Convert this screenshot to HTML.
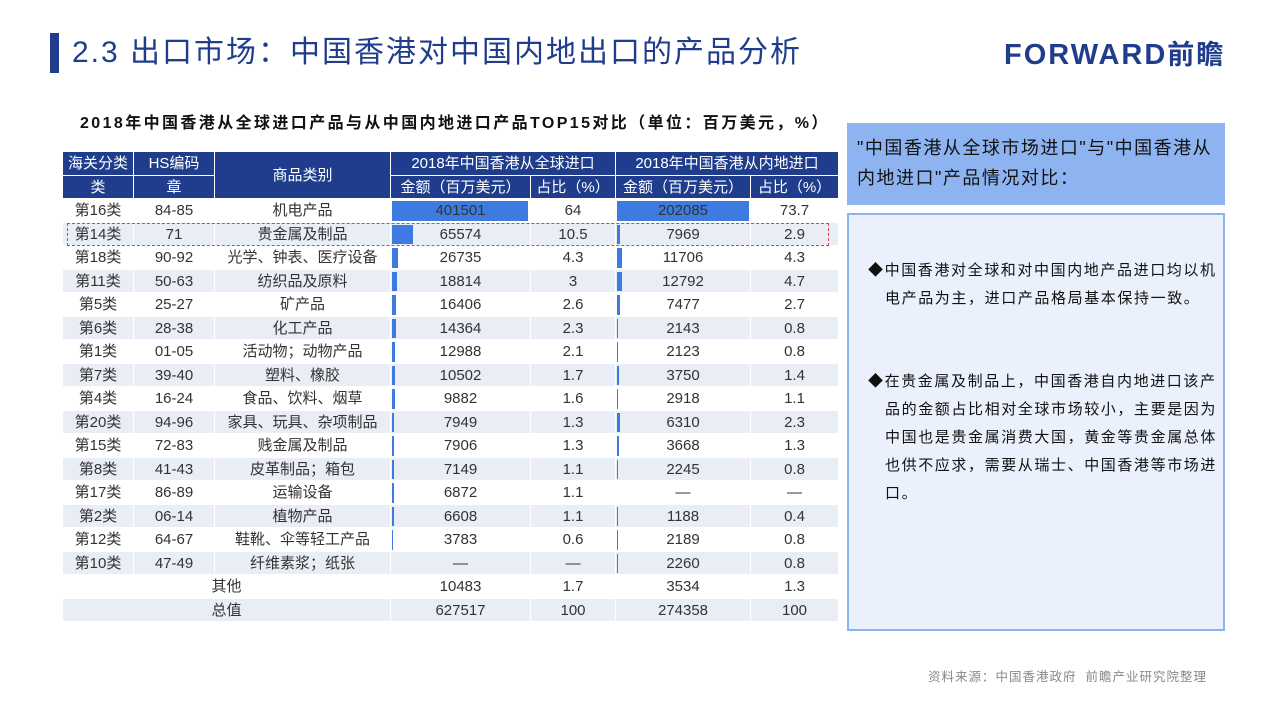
<!DOCTYPE html>
<html><head><meta charset="utf-8"><style>
body{margin:0;width:1280px;height:705px;background:#fff;position:relative;overflow:hidden;font-family:"Liberation Sans","Noto Sans CJK SC",sans-serif;}
.abs{position:absolute}
table{position:absolute;left:63px;top:152px;border-collapse:separate;border-spacing:0;table-layout:fixed;width:776px;font-size:15px;color:#333}
td{padding:1px 0 0 0;text-align:center;border-right:1px solid #fff;border-bottom:1px solid #fff;height:21.5px;line-height:21.5px;white-space:nowrap;position:relative;vertical-align:middle;overflow:hidden}
thead td{background:#1f3d8c;color:#fff;height:21.5px;line-height:21.5px;padding-top:1px}
tr.g td{background:#e9edf5}
.b{position:absolute;left:1px;top:2px;bottom:1px;background:#3d7be0}
td span{position:relative}
</style></head><body>
<div class="abs" style="left:50px;top:33px;width:9px;height:40px;background:#1f3d8c"></div>
<div class="abs" style="left:72px;top:32px;font-size:30px;color:#1f3d8c;letter-spacing:2px;line-height:42px">2.3 出口市场：中国香港对中国内地出口的产品分析</div>
<div class="abs" style="left:1004px;top:36px;font-size:29px;font-weight:bold;color:#1f3d8c;line-height:38px;letter-spacing:2px">FORWARD<span style="font-size:27px">前瞻</span></div>
<div class="abs" style="left:80px;top:113px;font-size:16px;font-weight:bold;color:#111;line-height:22px;letter-spacing:2.4px">2018年中国香港从全球进口产品与从中国内地进口产品TOP15对比（单位：百万美元，%）</div>
<table>
<colgroup><col style="width:71px"><col style="width:81px"><col style="width:176px"><col style="width:140px"><col style="width:85px"><col style="width:135px"><col style="width:88px"></colgroup>
<thead>
<tr><td>海关分类</td><td>HS编码</td><td rowspan="2">商品类别</td><td colspan="2">2018年中国香港从全球进口</td><td colspan="2">2018年中国香港从内地进口</td></tr>
<tr><td>类</td><td>章</td><td>金额（百万美元）</td><td>占比（%）</td><td>金额（百万美元）</td><td>占比（%）</td></tr>
</thead>
<tbody>
<tr><td>第16类</td><td>84-85</td><td>机电产品</td><td><div class="b" style="width:136px"></div><span>401501</span></td><td>64</td><td><div class="b" style="width:132px"></div><span>202085</span></td><td>73.7</td></tr>
<tr class="g"><td>第14类</td><td>71</td><td>贵金属及制品</td><td><div class="b" style="width:21px"></div><span>65574</span></td><td>10.5</td><td><div class="b" style="width:3px"></div><span>7969</span></td><td>2.9</td></tr>
<tr><td>第18类</td><td>90-92</td><td>光学、钟表、医疗设备</td><td><div class="b" style="width:6px"></div><span>26735</span></td><td>4.3</td><td><div class="b" style="width:5px"></div><span>11706</span></td><td>4.3</td></tr>
<tr class="g"><td>第11类</td><td>50-63</td><td>纺织品及原料</td><td><div class="b" style="width:5px"></div><span>18814</span></td><td>3</td><td><div class="b" style="width:5px"></div><span>12792</span></td><td>4.7</td></tr>
<tr><td>第5类</td><td>25-27</td><td>矿产品</td><td><div class="b" style="width:4px"></div><span>16406</span></td><td>2.6</td><td><div class="b" style="width:3px"></div><span>7477</span></td><td>2.7</td></tr>
<tr class="g"><td>第6类</td><td>28-38</td><td>化工产品</td><td><div class="b" style="width:3.5px"></div><span>14364</span></td><td>2.3</td><td><div class="b" style="width:1px"></div><span>2143</span></td><td>0.8</td></tr>
<tr><td>第1类</td><td>01-05</td><td>活动物；动物产品</td><td><div class="b" style="width:3px"></div><span>12988</span></td><td>2.1</td><td><div class="b" style="width:1px"></div><span>2123</span></td><td>0.8</td></tr>
<tr class="g"><td>第7类</td><td>39-40</td><td>塑料、橡胶</td><td><div class="b" style="width:3px"></div><span>10502</span></td><td>1.7</td><td><div class="b" style="width:1.5px"></div><span>3750</span></td><td>1.4</td></tr>
<tr><td>第4类</td><td>16-24</td><td>食品、饮料、烟草</td><td><div class="b" style="width:2.5px"></div><span>9882</span></td><td>1.6</td><td><div class="b" style="width:1px"></div><span>2918</span></td><td>1.1</td></tr>
<tr class="g"><td>第20类</td><td>94-96</td><td>家具、玩具、杂项制品</td><td><div class="b" style="width:2px"></div><span>7949</span></td><td>1.3</td><td><div class="b" style="width:2.5px"></div><span>6310</span></td><td>2.3</td></tr>
<tr><td>第15类</td><td>72-83</td><td>贱金属及制品</td><td><div class="b" style="width:2px"></div><span>7906</span></td><td>1.3</td><td><div class="b" style="width:1.5px"></div><span>3668</span></td><td>1.3</td></tr>
<tr class="g"><td>第8类</td><td>41-43</td><td>皮革制品；箱包</td><td><div class="b" style="width:1.5px"></div><span>7149</span></td><td>1.1</td><td><div class="b" style="width:1px"></div><span>2245</span></td><td>0.8</td></tr>
<tr><td>第17类</td><td>86-89</td><td>运输设备</td><td><div class="b" style="width:1.5px"></div><span>6872</span></td><td>1.1</td><td>—</td><td>—</td></tr>
<tr class="g"><td>第2类</td><td>06-14</td><td>植物产品</td><td><div class="b" style="width:1.5px"></div><span>6608</span></td><td>1.1</td><td><div class="b" style="width:1px"></div><span>1188</span></td><td>0.4</td></tr>
<tr><td>第12类</td><td>64-67</td><td>鞋靴、伞等轻工产品</td><td><div class="b" style="width:1px"></div><span>3783</span></td><td>0.6</td><td><div class="b" style="width:1px"></div><span>2189</span></td><td>0.8</td></tr>
<tr class="g"><td>第10类</td><td>47-49</td><td>纤维素浆；纸张</td><td>—</td><td>—</td><td><div class="b" style="width:1px"></div><span>2260</span></td><td>0.8</td></tr>
<tr><td colspan="3">其他</td><td>10483</td><td>1.7</td><td>3534</td><td>1.3</td></tr>
<tr class="g"><td colspan="3">总值</td><td>627517</td><td>100</td><td>274358</td><td>100</td></tr>
</tbody></table>
<div class="abs" style="left:67px;top:223px;width:760px;height:21px;border:1.5px dashed #e0404a"></div>
<div class="abs" style="left:847px;top:123px;width:378px;height:82px;background:#8db4f0"></div>
<div class="abs" style="left:857px;top:133px;width:365px;font-size:18px;line-height:30px;color:#111;letter-spacing:1.5px">"中国香港从全球市场进口"与"中国香港从内地进口"产品情况对比：</div>
<div class="abs" style="left:847px;top:213px;width:374px;height:414px;background:#eaf1fc;border:2px solid #8db4f0"></div>
<div class="abs" style="left:868px;top:257px;width:335px;font-size:15px;line-height:28px;color:#111;padding-left:17px;text-indent:-17px;letter-spacing:1.6px">◆中国香港对全球和对中国内地产品进口均以机电产品为主，进口产品格局基本保持一致。</div>
<div class="abs" style="left:868px;top:368px;width:335px;font-size:15px;line-height:28px;color:#111;padding-left:17px;text-indent:-17px;letter-spacing:1.6px">◆在贵金属及制品上，中国香港自内地进口该产品的金额占比相对全球市场较小，主要是因为中国也是贵金属消费大国，黄金等贵金属总体也供不应求，需要从瑞士、中国香港等市场进口。</div>
<div class="abs" style="left:928px;top:666px;font-size:12.5px;color:#888;letter-spacing:1px">资料来源：中国香港政府&nbsp;&nbsp;前瞻产业研究院整理</div>
</body></html>
